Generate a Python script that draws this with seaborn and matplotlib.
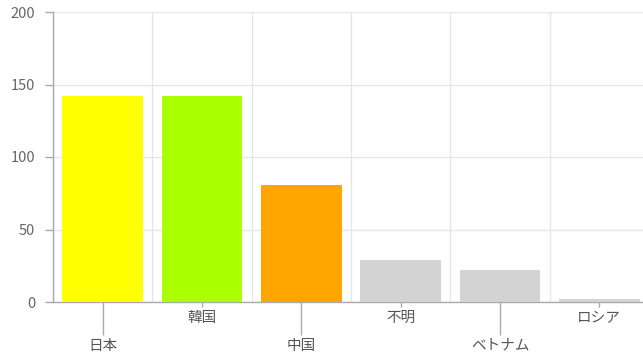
import matplotlib
matplotlib.use("Agg")
import matplotlib.pyplot as plt
import seaborn as sns
import pandas as pd
from matplotlib.transforms import offset_copy
from matplotlib.ticker import FixedLocator

categories = ["日本", "韓国", "中国", "不明", "ベトナム", "ロシア"]
values = [142, 142, 81, 29, 22, 2]
colors = ["#FFFF00", "#AAFF00", "#FFA500", "#D3D3D3", "#D3D3D3", "#D3D3D3"]
y_ticks = [0, 50, 100, 150, 200]
lower_labels = [True, False, True, False, True, False]

sns.set_theme(style="white")
plt.rcParams['font.family'] = ['Noto Sans CJK JP', 'DejaVu Sans']

fig = plt.figure(figsize=(6.43, 3.58), dpi=100)
ax = fig.add_axes([53/643, 56/358, 596/643, 290/358])
df = pd.DataFrame({"cat": categories, "val": values})
sns.barplot(data=df, x="cat", y="val", hue="cat", palette=colors, legend=False,
            width=0.815, saturation=1, ax=ax, zorder=3, linewidth=0)

ax.set_axisbelow(True)
ax.set_xlim(-0.5, len(categories) - 0.5)
ax.set_ylim(0, 200)
ax.set_yticks(y_ticks)
ax.set_xlabel("")
ax.set_ylabel("")

# grids
ax.yaxis.grid(True, color="#e6e6e6", linewidth=1)
ax.xaxis.set_minor_locator(FixedLocator([i - 0.5 for i in range(len(categories) + 1)]))
ax.xaxis.grid(True, which="minor", color="#e6e6e6", linewidth=1)
ax.tick_params(axis="x", which="minor", length=0)

for s in ["top", "right"]:
    ax.spines[s].set_visible(False)
for s in ["left", "bottom"]:
    ax.spines[s].set_color("#aaaaaa")
    ax.spines[s].set_linewidth(1)

ax.tick_params(axis="y", which="major", left=True, length=5.8, width=1, color="#aaaaaa",
               labelsize=10.5, labelcolor="#666666", pad=7)
ax.tick_params(axis="x", which="major", bottom=True, length=3.6, width=1, color="#aaaaaa",
               labelbottom=False)

ax.set_xticks(range(len(categories)))
for i, tick in enumerate(ax.xaxis.get_major_ticks()):
    if lower_labels[i]:
        tick.tick1line.set_markersize(23.8)

for i, cat in enumerate(categories):
    dy = 44 if lower_labels[i] else 16
    tr = offset_copy(ax.get_xaxis_transform(), fig=fig, x=0, y=-dy, units="dots")
    ax.text(i, 0, cat, transform=tr, ha="center", va="center",
            fontsize=10.5, color="#555555", clip_on=False)

fig.savefig("out.png", dpi=100)
